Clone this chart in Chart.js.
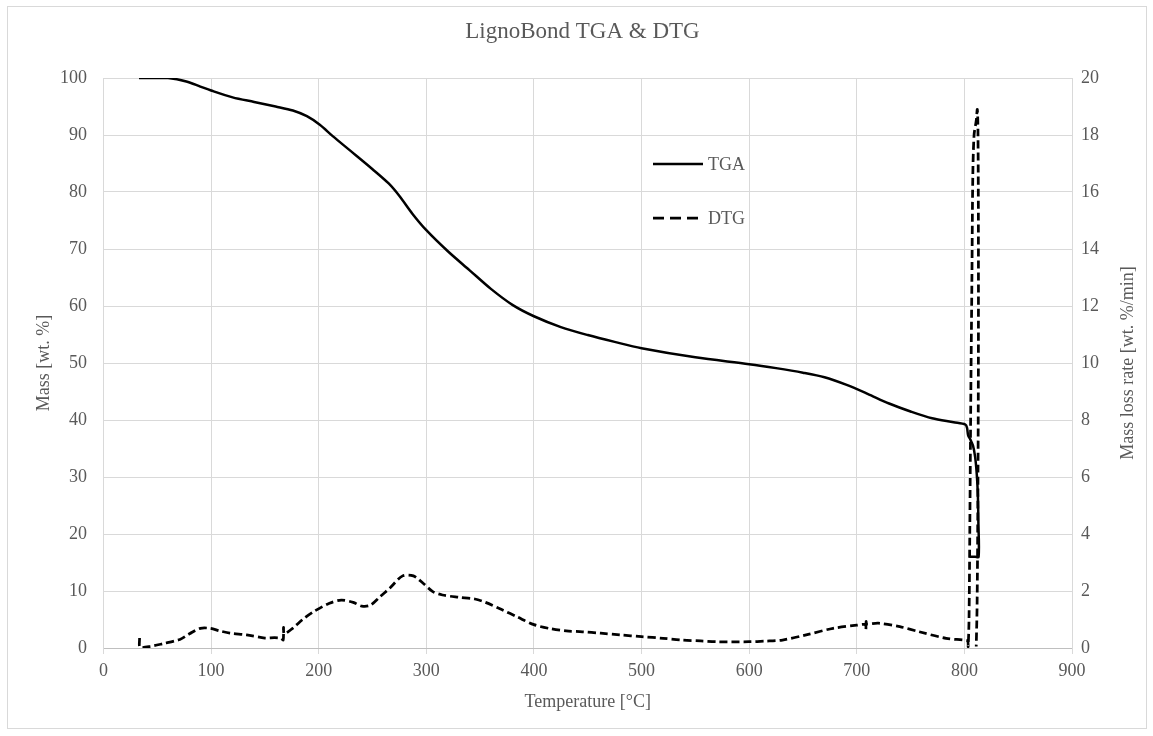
<!DOCTYPE html>
<html>
<head>
<meta charset="utf-8">
<script src="https://cdn.jsdelivr.net/npm/chart.js@4.4.1/dist/chart.umd.min.js"></script>
<style>
  html, body { margin: 0; padding: 0; background: #ffffff; }
  #wrap { position: absolute; left: 0; top: 0; width: 1153px; height: 736px; }
</style>
</head>
<body>
<div id="wrap"><canvas id="c" width="1153" height="736"></canvas></div>
<script>
// ---- data ----
const chartTitle = "LignoBond TGA & DTG";
const xTitle = "Temperature [°C]";
const yLeftTitle = "Mass [wt. %]";
const yRightTitle = "Mass loss rate [wt. %/min]";
const seriesNames = ["TGA", "DTG"];

const tgaTemp = [33, 45, 60, 77, 90, 100, 120, 140, 160, 176, 189, 201, 213, 229, 250, 265, 275, 287, 300, 320, 340, 360, 380, 400, 425, 450, 475, 500, 550, 600, 625, 650, 670, 690, 710, 730, 750, 770, 790, 801, 802.5, 803.5, 805.5, 808, 810, 811.5, 812.5, 813, 813.2, 810, 804.6];
const tgaMass = [100, 100, 100, 99.4, 98.5, 97.8, 96.6, 95.8, 95.0, 94.3, 93.3, 91.8, 89.8, 87.3, 84.0, 81.5, 79.3, 76.2, 73.3, 69.6, 66.3, 63.0, 60.2, 58.2, 56.3, 54.9, 53.7, 52.6, 51.0, 49.8, 49.1, 48.3, 47.5, 46.2, 44.6, 42.9, 41.5, 40.3, 39.6, 39.2, 38.6, 37.3, 36.6, 35.5, 33.5, 30.5, 27, 22, 16, 16, 16];

const dtgTemp = [33.5, 34, 43, 55, 71, 80, 90, 99, 108, 117.5, 133, 150, 159, 165, 167, 167.3, 168, 176, 185, 195, 210, 221, 232, 240, 248, 257, 266, 278, 288, 297, 306, 315, 330, 345, 355, 370, 385, 400, 415, 430, 445, 462, 480, 500, 520, 537, 555, 570, 600, 615, 631, 653, 678, 700, 708, 708.5, 708.7, 709.2, 720, 740, 758, 783, 799, 803, 803.5, 804.3, 805, 806, 807, 807.8, 809, 811, 812, 812.6, 813, 813, 812.5, 811.8, 811];
const dtgRate = [0.35, 0.02, 0.05, 0.15, 0.3, 0.5, 0.69, 0.69, 0.6, 0.52, 0.46, 0.35, 0.36, 0.34, 0.28, 0.72, 0.5, 0.7, 1.0, 1.27, 1.57, 1.68, 1.6, 1.47, 1.5, 1.8, 2.1, 2.53, 2.53, 2.27, 1.98, 1.86, 1.78, 1.72, 1.6, 1.35, 1.08, 0.82, 0.68, 0.6, 0.57, 0.52, 0.46, 0.4, 0.34, 0.28, 0.25, 0.22, 0.22, 0.24, 0.28, 0.46, 0.69, 0.8, 0.82, 0.66, 0.93, 0.84, 0.87, 0.75, 0.57, 0.34, 0.28, 0.25, 0.05, 1, 4, 9, 13, 16.5, 18, 18.5, 18.9, 18.2, 15, 10, 5, 1.5, 0.05];

const xMin = 0, xMax = 900, xStep = 100;
const yLeftMin = 0, yLeftMax = 100, yLeftStep = 10;
const yRightMin = 0, yRightMax = 20, yRightStep = 2;

// ---- styling ----
const FONT = "'Liberation Serif', 'Times New Roman', serif";
const TXT = '#595959';
const GRID = '#d9d9d9';

const tgaPoints = tgaTemp.map((t, i) => ({ x: t, y: tgaMass[i] }));
const dtgPoints = dtgTemp.map((t, i) => ({ x: t, y: dtgRate[i] }));

const frameAndLegend = {
  id: 'frameAndLegend',
  beforeDraw(chart) {
    const ctx = chart.ctx;
    ctx.save();
    ctx.fillStyle = '#ffffff';
    ctx.fillRect(0, 0, chart.width, chart.height);
    ctx.strokeStyle = GRID;
    ctx.lineWidth = 1;
    ctx.strokeRect(7.5, 6.5, 1139, 722);
    ctx.restore();
  },
  afterDraw(chart) {
    const ctx = chart.ctx;
    const items = [
      { ds: chart.data.datasets[0], y: 164, dash: [] },
      { ds: chart.data.datasets[1], y: 218, dash: [11, 6] }
    ];
    ctx.save();
    items.forEach(it => {
      ctx.beginPath();
      ctx.setLineDash(it.dash);
      ctx.strokeStyle = it.ds.borderColor;
      ctx.lineWidth = it.ds.borderWidth;
      ctx.moveTo(653, it.y);
      ctx.lineTo(703, it.y);
      ctx.stroke();
      ctx.setLineDash([]);
      ctx.fillStyle = TXT;
      ctx.font = '18px ' + FONT;
      ctx.textBaseline = 'middle';
      ctx.textAlign = 'left';
      ctx.fillText(it.ds.label, 708, it.y + 1);
    });
    // right axis title, reading bottom-to-top like the reference
    const yR = chart.scales.yR;
    const area = chart.chartArea;
    ctx.translate(yR.right - 25, (area.top + area.bottom) / 2);
    ctx.rotate(-Math.PI / 2);
    ctx.textAlign = 'center';
    ctx.textBaseline = 'middle';
    ctx.fillStyle = TXT;
    ctx.font = '18px ' + FONT;
    ctx.fillText(yRightTitle, 0, 0);
    ctx.restore();
  }
};

new Chart(document.getElementById('c'), {
  type: 'line',
  data: {
    datasets: [
      {
        label: seriesNames[0],
        data: tgaPoints,
        yAxisID: 'yL',
        borderColor: '#000000',
        borderWidth: 2.5,
        pointRadius: 0,
        tension: 0.3,
        fill: false
      },
      {
        label: seriesNames[1],
        data: dtgPoints,
        yAxisID: 'yR',
        borderColor: '#000000',
        borderWidth: 2.75,
        borderDash: [8, 4],
        pointRadius: 0,
        tension: 0.3,
        fill: false
      }
    ]
  },
  options: {
    responsive: false,
    animation: false,
    events: [],
    layout: { padding: { left: 12, right: 0, top: 0, bottom: 0 } },
    plugins: {
      legend: { display: false },
      tooltip: { enabled: false },
      title: {
        display: true,
        text: chartTitle,
        color: TXT,
        font: { family: FONT, size: 23, weight: 'normal', lineHeight: 1.2 },
        padding: { top: 18, bottom: 32.4 }
      }
    },
    scales: {
      x: {
        type: 'linear',
        min: xMin, max: xMax,
        afterFit(s) { s.height = 88; },
        ticks: { stepSize: xStep, color: TXT, font: { family: FONT, size: 18 }, padding: 6, maxRotation: 0 },
        grid: { color: GRID, tickLength: 6, tickColor: GRID, drawTicks: true },
        border: { color: '#bfbfbf', width: 1 },
        title: { display: true, text: xTitle, color: TXT, font: { family: FONT, size: 18, lineHeight: 1.2 }, padding: { top: 0, bottom: 23 } }
      },
      yL: {
        type: 'linear',
        position: 'left',
        min: yLeftMin, max: yLeftMax,
        afterFit(s) { s.width = 91.5; },
        ticks: { stepSize: yLeftStep, color: TXT, font: { family: FONT, size: 18 }, padding: 16.5 },
        grid: { color: GRID, drawTicks: false },
        border: { color: GRID },
        title: { display: true, text: yLeftTitle, color: TXT, font: { family: FONT, size: 18, lineHeight: 1.2 }, padding: { top: 21, bottom: 0 } }
      },
      yR: {
        type: 'linear',
        position: 'right',
        min: yRightMin, max: yRightMax,
        afterFit(s) { s.width = 81; },
        ticks: { stepSize: yRightStep, color: TXT, font: { family: FONT, size: 18 }, padding: 9 },
        grid: { display: false, drawTicks: false },
        border: { color: GRID },
        title: { display: false, text: yRightTitle }
      }
    }
  },
  plugins: [frameAndLegend]
});
</script>
</body>
</html>
